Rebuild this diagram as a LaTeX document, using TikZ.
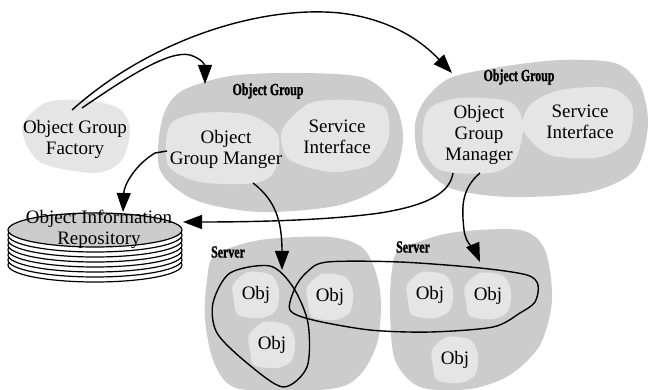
\documentclass[tikz,border=0pt]{standalone}
\usepackage{fontspec}
\setmainfont{Liberation Serif}
\newfontfamily\labelfont[FakeStretch=0.7,FakeBold=1.2]{Liberation Serif}
\usetikzlibrary{arrows.meta}

\begin{document}
\begin{tikzpicture}[x=1pt,y=-1pt,
  darkblob/.style={fill=gray!40},
  lightblob/.style={fill=gray!20},
  txt/.style={align=center,inner sep=0pt,font=\fontsize{19}{21}\selectfont},
  grouplabel/.style={inner sep=0pt,font=\fontsize{17}{19}\selectfont\labelfont\bfseries},
  link/.style={line width=1.4pt,-{Triangle[length=19pt,width=14pt]}},
  ring/.style={line width=1.4pt}]

  \useasboundingbox (0,0) rectangle (648,390);

  % Draw the group and server regions
  \fill[darkblob] plot[smooth cycle] coordinates {(180,92) (230,76) (300,73) (365,78) (395,105) (403,140) (390,180) (340,205) (260,212) (195,200) (160,170) (162,120)};
  \fill[darkblob] plot[smooth cycle] coordinates {(425,100) (450,78) (500,67) (560,60) (615,63) (640,85) (648,125) (635,170) (590,192) (510,197) (450,188) (420,160) (415,125)};
  \fill[darkblob] plot[smooth cycle] coordinates {(215,255) (260,240) (330,237) (365,250) (380,290) (378,340) (360,375) (330,389) (240,389) (215,365) (205,320) (207,280)};
  \fill[darkblob] plot[smooth cycle] coordinates {(400,250) (450,233) (520,230) (545,250) (552,300) (540,345) (510,375) (470,389) (420,387) (395,360) (390,310) (392,270)};

  % Draw the inner parts
  \fill[lightblob] plot[smooth cycle] coordinates {(22,128) (45,103) (85,100) (118,108) (130,128) (122,160) (95,173) (40,162)};
  \fill[lightblob] plot[smooth cycle] coordinates {(170,125) (200,113) (250,115) (278,135) (275,170) (255,183) (200,182) (168,165)};
  \fill[lightblob] plot[smooth cycle] coordinates {(285,125) (310,103) (350,100) (385,108) (388,140) (370,165) (330,172) (290,160) (281,140)};
  \fill[lightblob] plot[smooth cycle] coordinates {(428,110) (460,98) (510,102) (523,125) (515,160) (490,173) (440,170) (423,145)};
  \fill[lightblob] plot[smooth cycle] coordinates {(530,105) (560,90) (610,88) (632,105) (628,140) (600,157) (550,155) (523,130)};

  % Draw the objects
  \foreach \n/\x/\y in {obja/256/295, objb/330/297, objc/272/345, objd/430/295, obje/488/296, objf/455/360} {
    \fill[lightblob,shift={(\x,\y)}] plot[smooth cycle] coordinates {(-23,-10) (-8,-23) (15,-20) (23,-5) (20,15) (5,23) (-18,20) (-22,5)};
    \node[txt] (\n) at (\x,\y) {Obj};
  }

  % Draw the repository
  \foreach \i in {7,6,...,1}
    \draw[line width=1.2pt,fill=white] (95,{230+5*\i}) ellipse [x radius=87,y radius=17];
  \draw[line width=1.2pt,fill=gray!40] (95,230) ellipse [x radius=87,y radius=17];

  % Labels
  \node[txt] (factory) at (75,139) {Object Group\\Factory};
  \node[txt] (manager1) at (226,149) {Object\\Group Manger};
  \node[txt] (service1) at (337,137) {Service\\Interface};
  \node[txt] (manager2) at (479,135) {Object\\Group\\Manager};
  \node[txt] (service2) at (580,122) {Service\\Interface};
  \node[txt] (repo) at (99,229) {Object Information\\Repository};
  \node[grouplabel] (group1) at (268,91) {Object Group};
  \node[grouplabel] (group2) at (519,77) {Object Group};
  \node[grouplabel] (server1) at (228,252) {Server};
  \node[grouplabel] (server2) at (413,247) {Server};

  % Ends of the connectors
  \coordinate (fac-a) at (82,108);
  \coordinate (fac-b) at (72,110);
  \coordinate (grp1-in) at (205,84);
  \coordinate (grp2-in) at (452,73);
  \coordinate (man1-a) at (167,151);
  \coordinate (man1-b) at (253,183);
  \coordinate (man2-a) at (453,173);
  \coordinate (man2-b) at (480,173);
  \coordinate (repo-top) at (123,212);
  \coordinate (repo-side) at (183,222);
  \coordinate (ringa-in) at (282,270);
  \coordinate (ringb-in) at (480,262);

  % Draw the replica rings
  \draw[ring] plot[smooth cycle] coordinates {(270,266) (293,287) (308,323) (307,367) (283,387) (247,363) (217,333) (213,303) (230,273)};
  \draw[ring] plot[smooth cycle] coordinates {(290,310) (295,288) (307,272) (327,262) (400,262) (480,268) (527,275) (538,285) (535,302) (520,313) (493,327) (430,332) (370,330) (313,320)};

  % Draw the connectors
  \draw[link] (fac-a) .. controls (130,75) and (170,50) .. (190,55) .. controls (203,59) and (205,66) .. (grp1-in);
  \draw[link] (fac-b) .. controls (150,40) and (260,5) .. (340,13) .. controls (400,20) and (430,50) .. (grp2-in);
  \draw[link] (man1-a) -- (155,153) .. controls (135,165) and (124,185) .. (repo-top);
  \draw[link] (man2-a) .. controls (450,192) and (430,205) .. (380,213) .. controls (330,220) and (260,222) .. (repo-side);
  \draw[link] (man1-b) .. controls (275,200) and (282,220) .. (ringa-in);
  \draw[link] (man2-b) .. controls (460,190) and (462,210) .. (464,230) .. controls (466,245) and (475,250) .. (ringb-in);

\end{tikzpicture}
\end{document}
